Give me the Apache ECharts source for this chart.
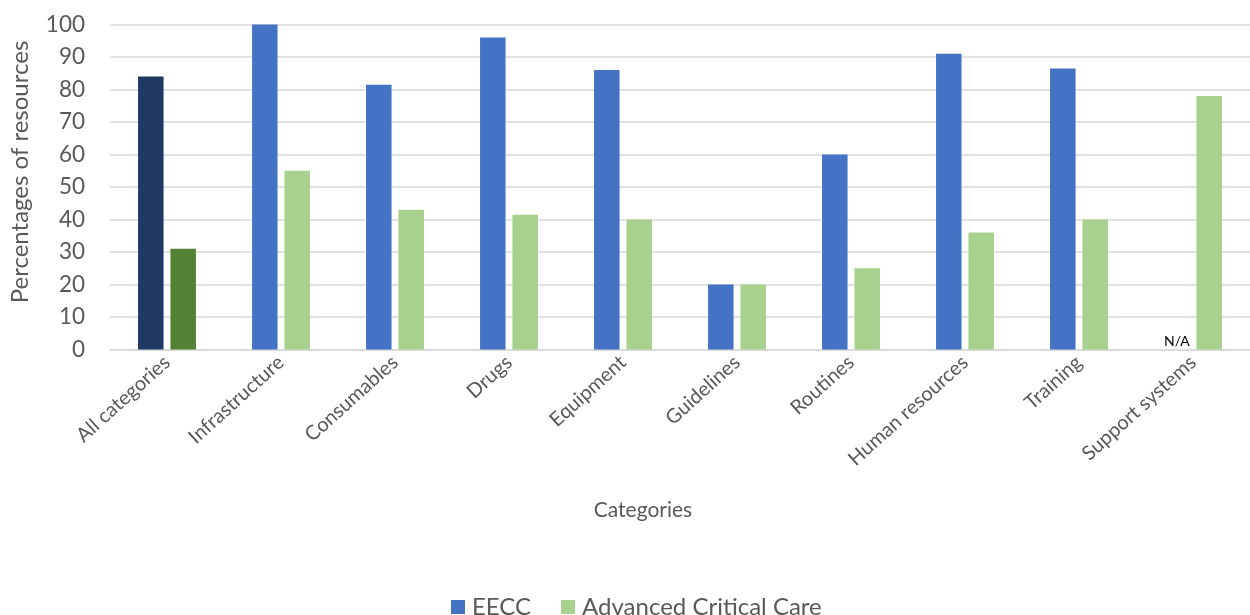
<!DOCTYPE html>
<html>
<head>
<meta charset="utf-8">
<script src="https://cdn.jsdelivr.net/npm/echarts@6/dist/echarts.min.js"></script>
<style>
  html, body { margin: 0; padding: 0; background: #ffffff; }
  #chart { width: 1250px; height: 615px; }
</style>
</head>
<body>
<div id="chart"></div>
<script>
// Resource availability by category
const categories = ['All categories', 'Infrastructure', 'Consumables', 'Drugs', 'Equipment',
  'Guidelines', 'Routines', 'Human resources', 'Training', 'Support systems'];
const eeccValues = [84, 100, 81.5, 96, 86, 20, 60, 91, 86.5, null];
const advancedValues = [31, 55, 43, 41.5, 40, 20, 25, 36, 40, 78];
const yTicks = [0, 10, 20, 30, 40, 50, 60, 70, 80, 90, 100];
const seriesNames = ['EECC', 'Advanced Critical Care'];

const FONT = 'Lato';
const TEXT = '#595959';
const EECC_COLOR = '#4472C4';
const ACC_COLOR = '#A9D18E';
const EECC_TOTAL_COLOR = '#203864';
const ACC_TOTAL_COLOR = '#548235';

// The first category (overall) is drawn in darker shades
const eeccData = eeccValues.map((v, i) => {
  if (v === null) {
    return { value: 0, label: { show: true, position: 'top', distance: 1, formatter: 'N/A',
      color: '#000000', fontFamily: FONT, fontSize: 14 } };
  }
  return i === 0 ? { value: v, itemStyle: { color: EECC_TOTAL_COLOR } } : v;
});
const accData = advancedValues.map((v, i) =>
  i === 0 ? { value: v, itemStyle: { color: ACC_TOTAL_COLOR } } : v);

const chart = echarts.init(document.getElementById('chart'), null, { renderer: 'canvas' });
chart.setOption({
  animation: false,
  backgroundColor: '#ffffff',
  textStyle: { fontFamily: FONT },
  grid: { left: 107, top: 24.5, width: 1154, height: 325, containLabel: false },
  legend: {
    data: seriesNames,
    left: 446,
    top: 590,
    itemWidth: 14,
    itemHeight: 14,
    itemGap: 30,
    icon: 'rect',
    textStyle: { color: TEXT, fontSize: 24, fontFamily: FONT, padding: [0, 0, 0, 2] }
  },
  xAxis: {
    type: 'category',
    data: categories,
    name: 'Categories',
    nameLocation: 'middle',
    nameGap: 150,
    nameTextStyle: { color: TEXT, fontSize: 21, fontFamily: FONT, padding: [0, 74, 0, 0] },
    axisLine: { show: true, lineStyle: { color: '#D9D9D9', width: 1.5 } },
    axisTick: { show: false },
    axisLabel: { rotate: 42, margin: 10, color: TEXT, fontSize: 20, fontFamily: FONT, interval: 0 }
  },
  yAxis: {
    type: 'value',
    min: yTicks[0],
    max: yTicks[yTicks.length - 1],
    interval: yTicks[1] - yTicks[0],
    name: 'Percentages of resources',
    nameLocation: 'middle',
    nameGap: 78,
    nameTextStyle: { color: TEXT, fontSize: 24, fontFamily: FONT, padding: [0, 0, 0, 30] },
    axisLine: { show: false },
    axisTick: { show: false },
    splitLine: { lineStyle: { color: '#D9D9D9', width: 1.5 } },
    axisLabel: { margin: 25, color: TEXT, fontSize: 22.5, fontFamily: FONT }
  },
  series: [
    {
      name: seriesNames[0],
      type: 'bar',
      data: eeccData,
      barWidth: 25.5,
      barGap: '27%',
      itemStyle: { color: EECC_COLOR }
    },
    {
      name: seriesNames[1],
      type: 'bar',
      data: accData,
      barWidth: 25.5,
      barGap: '27%',
      itemStyle: { color: ACC_COLOR }
    }
  ]
});
</script>
</body>
</html>
